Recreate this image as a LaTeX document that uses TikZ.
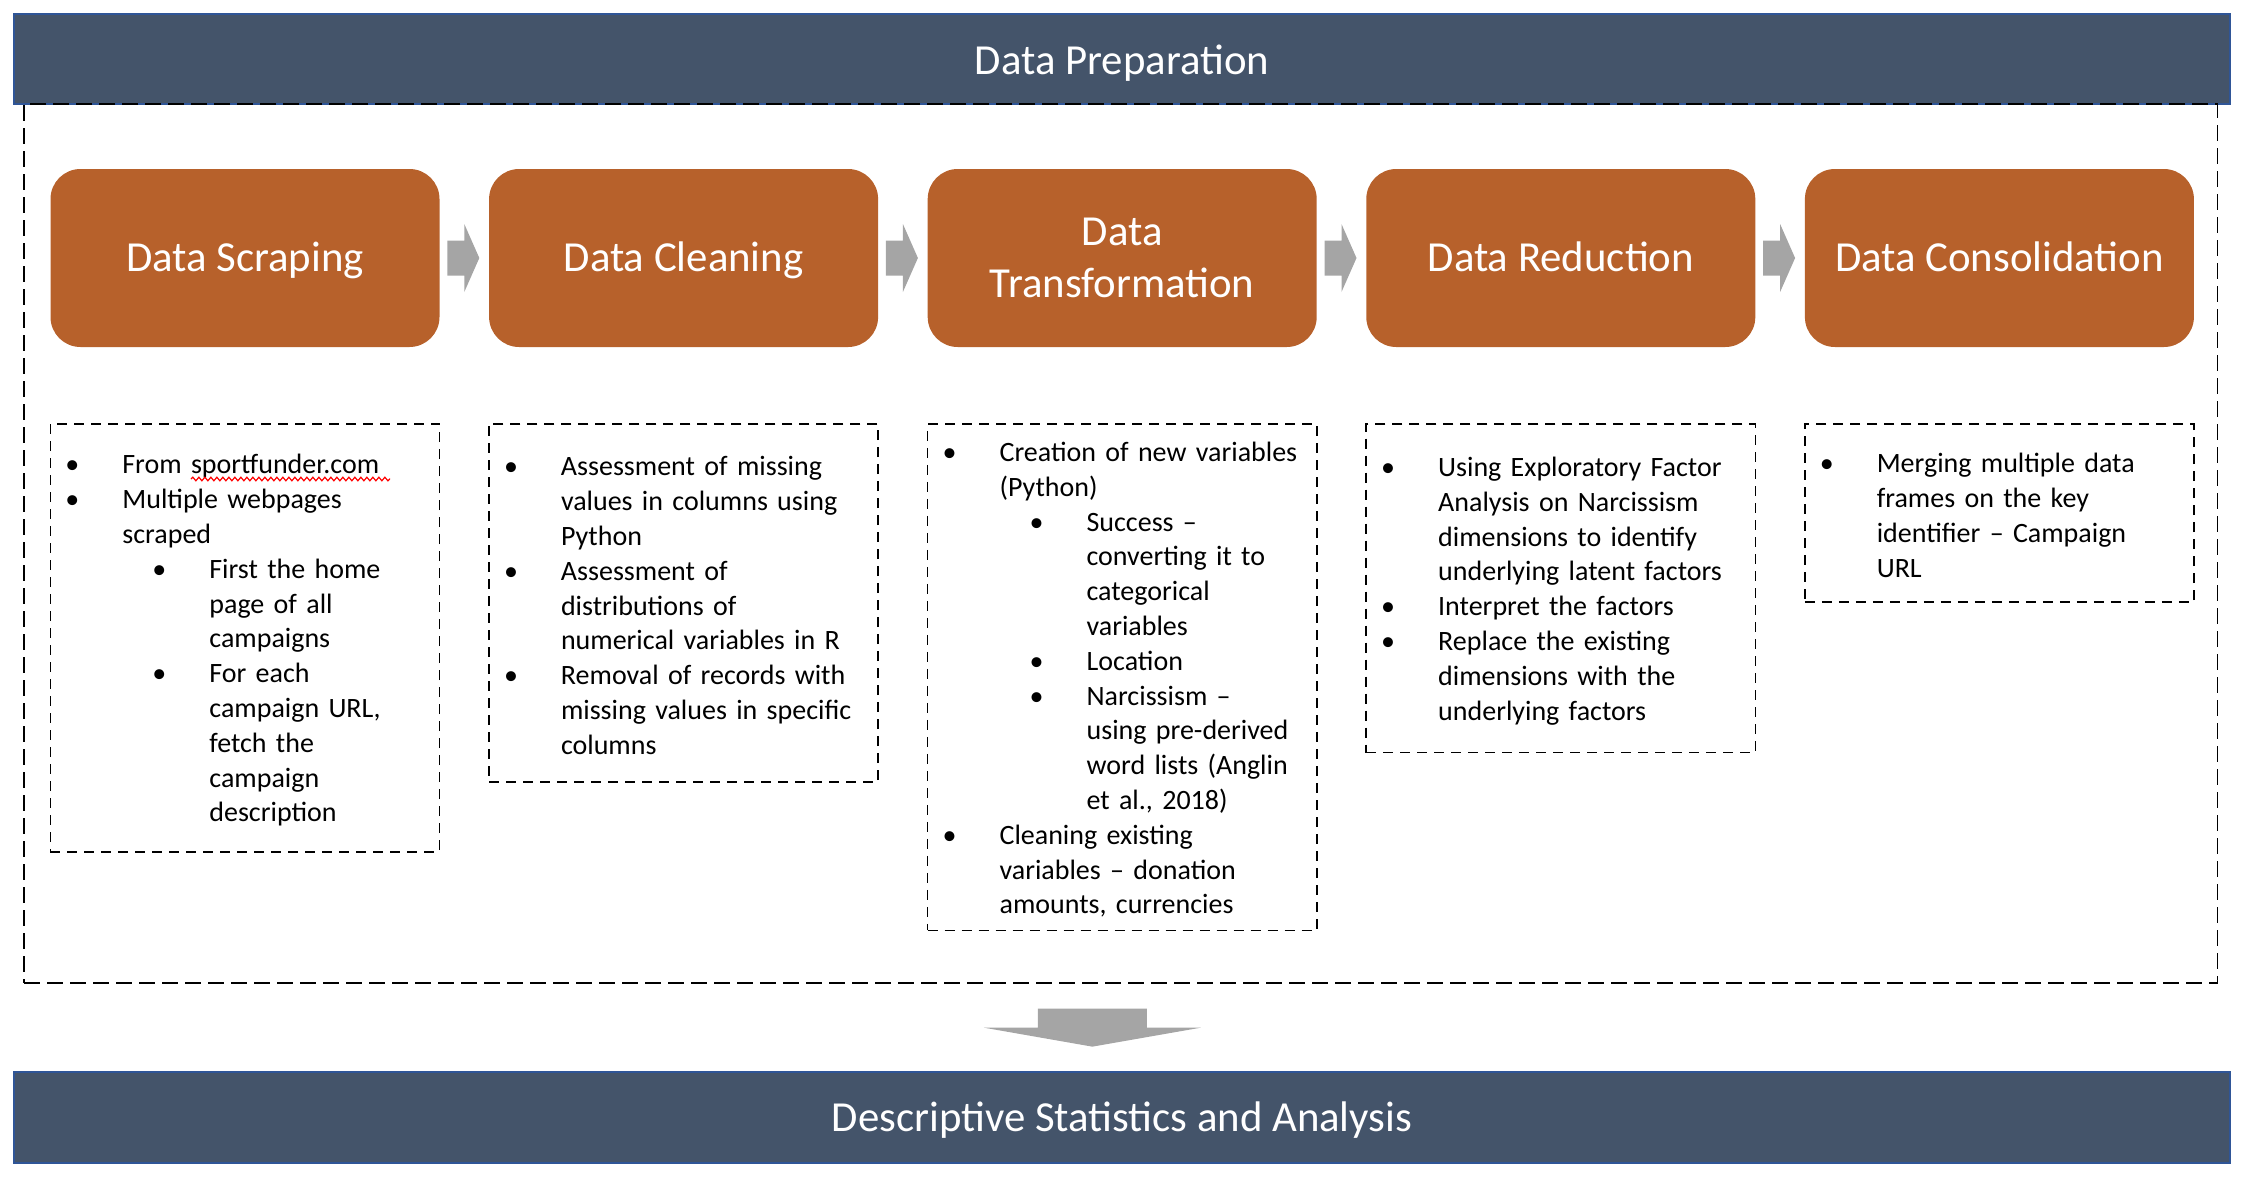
\documentclass[tikz,border=0pt]{standalone}
\usepackage{fontspec}
\setmainfont{Carlito}
\usetikzlibrary{calc,decorations.pathmorphing}
\definecolor{barblue}{HTML}{44546A}
\definecolor{baredge}{HTML}{2F5597}
\definecolor{stageorange}{HTML}{B7612B}
\definecolor{arrowgray}{HTML}{A5A5A5}
\newcommand\notesetup{\parindent=0pt\relax\parskip=0pt\relax}
\newcommand\itm[3]{\par\leftskip=#2\relax\noindent\kern\dimexpr#1-#2\relax\makebox[0pt]{\textbullet}\kern\dimexpr#2-#1\relax #3}
\newcommand\mi[1]{\itm{11pt}{36pt}{#1}}
\newcommand\si[1]{\itm{54.5pt}{79.5pt}{#1}}
\tikzset{
  bar/.style={fill=barblue, draw=baredge, line width=0.6pt, minimum width=1108pt, inner sep=0pt, text=white, font=\fontsize{21.4}{25.6}\selectfont, text height=13.5pt, text depth=0pt},
  stage/.style={fill=stageorange, rounded corners=15pt, minimum width=194.5pt, minimum height=89pt, inner sep=0pt, text=white, align=center, font=\fontsize{21.4}{25.9}\selectfont},
  oneline/.style={text height=13.5pt, text depth=0pt},
  notebox/.style={draw=black, line width=0.8pt, dash pattern=on 5pt off 3.5pt, minimum width=194.6pt, inner sep=0pt, anchor=north},
  notetext/.style={text width=194.6pt, inner sep=0pt, yshift=2.5pt, font=\fontsize{14}{17.4}\selectfont\notesetup},
  outerbox/.style={draw=black, line width=0.9pt, dash pattern=on 8pt off 3.5pt, minimum width=1096.75pt, minimum height=439.5pt, inner sep=0pt},
  grayarrow/.style={fill=arrowgray}
}
\begin{document}
\begin{tikzpicture}[x=0.5pt,y=-0.5pt]
\useasboundingbox (0,0) rectangle (2256,1184);
% bars
\node[bar, minimum height=45pt] (top) at (1122,59) {};
\node[text=white, font=\fontsize{21.4}{25.6}\selectfont, text height=13.5pt, text depth=0pt, inner sep=0pt] (toplabel) at ([yshift=-1pt]top.center) {Data Preparation};
\node[bar, minimum height=45.5pt] (bottom) at (1122,1117.5) {Descriptive Statistics and Analysis};
\node[outerbox] (outer) at (1120.75,543.5) {};
% stages
\node[stage, oneline] (s1) at (245,258) {Data Scraping};
\node[stage, oneline] (s2) at (683.6,258) {Data Cleaning};
\node[stage] (s3) at (1122.2,258) {Data\\Transformation};
\node[stage, oneline] (s4) at (1560.8,258) {Data Reduction};
\node[stage, oneline] (s5) at (1999.4,258) {Data Consolidation};
% arrows between stages
\foreach \a/\b in {s1/s2,s2/s3,s3/s4,s4/s5}{
  \fill[grayarrow, shift={($(\a.east)!0.5!(\b.west)$)}]
    (-17,-17.5) -- (0,-17.5) -- (0,-34) -- (15,0) -- (0,34) -- (0,17.5) -- (-17,17.5) -- cycle;
}
% down arrow
\fill[grayarrow, shift={($(outer.south)!0.5!(bottom.north)+(-29,0)$)}]
  (-54.5,-19) -- (54.5,-19) -- (54.5,0) -- (108.5,0) -- (0,19) -- (-108.5,0) -- (-54.5,0) -- cycle;
% note boxes
\node[notebox, minimum height=214pt] (n1) at (245,423) {};
\node[notebox, minimum height=179pt] (n2) at (683.6,423) {};
\node[notebox, minimum height=253.3pt] (n3) at (1122.2,423) {};
\node[notebox, minimum height=164.4pt] (n4) at (1560.8,423) {};
\node[notebox, minimum height=89pt] (n5) at (1999.4,423) {};
\node[notetext] (t1) at (n1.center) {\mi{From sportfunder.com}\mi{Multiple webpages\newline scraped}\si{First the home\newline page of all\newline campaigns}\si{For each\newline campaign URL,\newline fetch the\newline campaign\newline description}\par};
\node[notetext] (t2) at (n2.center) {\mi{Assessment of missing\newline values in columns using\newline Python}\mi{Assessment of\newline distributions of\newline numerical variables in R}\mi{Removal of records with\newline missing values in specific\newline columns}\par};
\node[notetext] (t3) at (n3.center) {\mi{Creation of new variables\newline (Python)}\si{Success –\newline converting it to\newline categorical\newline variables}\si{Location}\si{Narcissism –\newline using pre-derived\newline word lists (Anglin\newline et al., 2018)}\mi{Cleaning existing\newline variables – donation\newline amounts, currencies}\par};
\node[notetext] (t4) at (n4.center) {\mi{Using Exploratory Factor\newline Analysis on Narcissism\newline dimensions to identify\newline underlying latent factors}\mi{Interpret the factors}\mi{Replace the existing\newline dimensions with the\newline underlying factors}\par};
\node[notetext] (t5) at (n5.center) {\mi{Merging multiple data\newline frames on the key\newline identifier – Campaign\newline URL}\par};
% spell-check underline
\draw[red, line width=0.6pt, decorate, decoration={snake, amplitude=0.9pt, segment length=3pt}] (191,479) -- (390,479);
\end{tikzpicture}
\end{document}
